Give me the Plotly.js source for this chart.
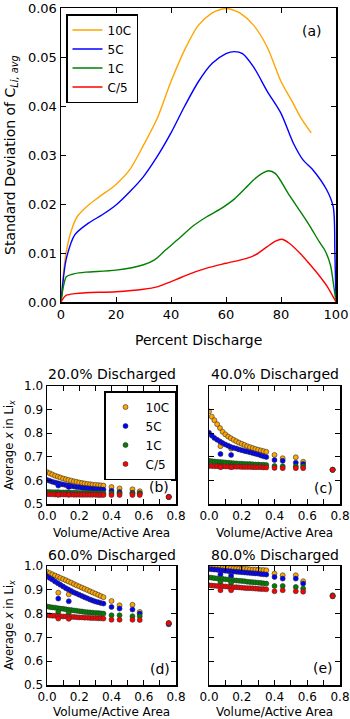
<!DOCTYPE html>
<html>
<head>
<meta charset="utf-8">
<script src="https://cdn.plot.ly/plotly-3.0.1.min.js"></script>
<style>
  body { margin: 0; background: #fff; }
  #chart { width: 350px; height: 719px; }
</style>
</head>
<body>
<div id="chart"></div>
<script>
// (a) std deviation of C_Li,avg vs percent discharge
var pct10C = [0, 1, 2, 4, 6, 10, 14, 20, 25, 30, 35, 40, 45, 50, 55, 58, 60, 62, 65, 70, 75, 80, 84, 87, 91];
var sd10C = [0, 0.0065, 0.0105, 0.0150, 0.0175, 0.0198, 0.0215, 0.0240, 0.0270, 0.0320, 0.0375, 0.0450, 0.0515, 0.0565, 0.0590, 0.0597, 0.0599, 0.0597, 0.0590, 0.0565, 0.0520, 0.0450, 0.0410, 0.0378, 0.0345];

var pct5C = [0, 1, 2, 5, 10, 15, 20, 25, 30, 35, 40, 45, 50, 55, 60, 63, 66, 70, 75, 80, 84.5, 88, 91.7, 96.6, 99, 99.6, 100];
var sd5C = [0, 0.0055, 0.0090, 0.0137, 0.0161, 0.0178, 0.0198, 0.0225, 0.0256, 0.0297, 0.0345, 0.0400, 0.0450, 0.0487, 0.0507, 0.0511, 0.0507, 0.0480, 0.0430, 0.0385, 0.0324, 0.0290, 0.0269, 0.0229, 0.0194, 0.0100, 0];

var pct1C = [0, 1, 2, 5, 9, 20, 30, 34, 38, 43, 48, 53, 58, 63, 67, 70, 73, 75.5, 78, 83, 87, 90.5, 94, 96, 98, 99, 100];
var sd1C = [0, 0.0035, 0.0052, 0.0058, 0.0061, 0.0065, 0.0076, 0.0086, 0.0106, 0.0130, 0.0155, 0.0174, 0.0190, 0.0210, 0.0232, 0.0249, 0.0262, 0.0268, 0.0262, 0.0218, 0.0185, 0.0155, 0.0122, 0.0105, 0.0075, 0.0040, 0];

var pctC5 = [0, 1, 2, 5, 9, 20, 30, 35, 38.4, 42, 45.7, 53, 60, 67.5, 71, 75, 78, 80.2, 83, 87, 90, 94, 97, 100];
var sdC5 = [0, 0.0009, 0.0014, 0.0017, 0.0019, 0.0021, 0.0026, 0.0031, 0.0038, 0.0046, 0.0055, 0.0069, 0.0079, 0.0089, 0.0097, 0.0113, 0.0124, 0.0128, 0.0120, 0.0099, 0.0080, 0.0053, 0.0030, 0];

// (b)-(e) average x in Li_x vs volume/active area
var denseX = [0.00, 0.017, 0.033, 0.05, 0.067, 0.083, 0.10, 0.117, 0.133, 0.15, 0.167, 0.183, 0.20, 0.217, 0.233, 0.25, 0.267, 0.283, 0.30, 0.317, 0.333, 0.35];
var sparseX = [0.07, 0.135, 0.40, 0.45, 0.53, 0.575, 0.755];

// 20% discharged
var b10C = [0.635, 0.630, 0.625, 0.620, 0.616, 0.612, 0.608, 0.605, 0.602, 0.599, 0.596, 0.594, 0.591, 0.589, 0.587, 0.585, 0.584, 0.582, 0.581, 0.580, 0.579, 0.578];
var b5C = [0.602, 0.598, 0.594, 0.591, 0.588, 0.585, 0.583, 0.580, 0.578, 0.576, 0.574, 0.572, 0.571, 0.569, 0.568, 0.567, 0.566, 0.565, 0.564, 0.563, 0.562, 0.561];
var b1C = [0.551, 0.551, 0.550, 0.550, 0.550, 0.549, 0.549, 0.549, 0.548, 0.548, 0.548, 0.548, 0.547, 0.547, 0.547, 0.547, 0.547, 0.546, 0.546, 0.546, 0.546, 0.546];
var bC5 = [0.541, 0.541, 0.541, 0.540, 0.540, 0.540, 0.540, 0.540, 0.540, 0.540, 0.539, 0.539, 0.539, 0.539, 0.539, 0.539, 0.539, 0.539, 0.539, 0.538, 0.538, 0.538];
var b10Cs = [0.585, 0.578, 0.572, 0.566, 0.562, 0.554, 0.530];
var b5Cs = [0.578, 0.572, 0.556, 0.551, 0.548, 0.546, 0.530];
var b1Cs = [0.548, 0.547, 0.546, 0.545, 0.545, 0.545, 0.530];
var bC5s = [0.539, 0.539, 0.538, 0.538, 0.538, 0.538, 0.530];

// 40% discharged
var c10C = [0.892, 0.870, 0.855, 0.838, 0.822, 0.806, 0.795, 0.786, 0.779, 0.772, 0.766, 0.760, 0.755, 0.750, 0.745, 0.741, 0.737, 0.733, 0.730, 0.727, 0.724, 0.721];
var c5C = [0.802, 0.790, 0.780, 0.772, 0.765, 0.758, 0.752, 0.747, 0.742, 0.738, 0.735, 0.731, 0.728, 0.725, 0.722, 0.719, 0.716, 0.713, 0.710, 0.706, 0.702, 0.699];
var c1C = [0.683, 0.681, 0.680, 0.679, 0.678, 0.677, 0.676, 0.675, 0.674, 0.673, 0.672, 0.671, 0.671, 0.670, 0.669, 0.669, 0.668, 0.667, 0.667, 0.666, 0.666, 0.665];
var cC5 = [0.661, 0.661, 0.660, 0.660, 0.660, 0.659, 0.659, 0.659, 0.658, 0.658, 0.658, 0.658, 0.657, 0.657, 0.657, 0.657, 0.656, 0.656, 0.656, 0.656, 0.655, 0.655];
var c10Cs = [0.745, 0.735, 0.708, 0.694, 0.698, 0.679, 0.645];
var c5Cs = [0.712, 0.708, 0.686, 0.683, 0.675, 0.670, 0.645];
var c1Cs = [0.664, 0.664, 0.661, 0.660, 0.660, 0.660, 0.645];
var cC5s = [0.656, 0.656, 0.653, 0.652, 0.652, 0.652, 0.645];

// 60% discharged
var d10C = [0.975, 0.970, 0.965, 0.960, 0.955, 0.950, 0.945, 0.940, 0.935, 0.930, 0.924, 0.919, 0.914, 0.909, 0.904, 0.899, 0.894, 0.889, 0.884, 0.879, 0.874, 0.869];
var d5C = [0.957, 0.950, 0.943, 0.935, 0.928, 0.921, 0.914, 0.907, 0.901, 0.895, 0.889, 0.884, 0.879, 0.874, 0.869, 0.864, 0.859, 0.855, 0.851, 0.848, 0.845, 0.842];
var d1C = [0.830, 0.828, 0.826, 0.825, 0.823, 0.821, 0.820, 0.818, 0.816, 0.815, 0.813, 0.812, 0.810, 0.809, 0.807, 0.806, 0.805, 0.804, 0.803, 0.802, 0.801, 0.800];
var dC5 = [0.793, 0.792, 0.791, 0.791, 0.790, 0.789, 0.788, 0.788, 0.787, 0.786, 0.786, 0.785, 0.784, 0.784, 0.783, 0.783, 0.782, 0.781, 0.781, 0.780, 0.780, 0.779];
var d10Cs = [0.888, 0.881, 0.853, 0.835, 0.837, 0.807, 0.760];
var d5Cs = [0.863, 0.852, 0.828, 0.821, 0.817, 0.800, 0.755];
var d1Cs = [0.807, 0.803, 0.793, 0.793, 0.789, 0.789, 0.758];
var dC5s = [0.779, 0.778, 0.774, 0.774, 0.774, 0.773, 0.760];

// 80% discharged
var e10C = [0.997, 0.996, 0.995, 0.995, 0.994, 0.993, 0.993, 0.992, 0.991, 0.990, 0.990, 0.989, 0.988, 0.988, 0.987, 0.986, 0.985, 0.985, 0.984, 0.983, 0.983, 0.982];
var e5C = [0.987, 0.986, 0.985, 0.984, 0.983, 0.981, 0.980, 0.979, 0.978, 0.977, 0.976, 0.975, 0.974, 0.973, 0.972, 0.971, 0.970, 0.969, 0.968, 0.966, 0.965, 0.964];
var e1C = [0.952, 0.951, 0.949, 0.948, 0.947, 0.946, 0.944, 0.943, 0.942, 0.940, 0.939, 0.938, 0.937, 0.936, 0.934, 0.933, 0.932, 0.931, 0.930, 0.929, 0.927, 0.926];
var eC5 = [0.919, 0.918, 0.917, 0.916, 0.916, 0.915, 0.914, 0.913, 0.912, 0.911, 0.911, 0.910, 0.909, 0.908, 0.907, 0.907, 0.906, 0.905, 0.904, 0.903, 0.903, 0.902];
var e10Cs = [0.975, 0.970, 0.968, 0.961, 0.961, 0.936, 0.877];
var e5Cs = [0.964, 0.958, 0.954, 0.947, 0.947, 0.926, 0.873];
var e1Cs = [0.933, 0.930, 0.916, 0.916, 0.912, 0.905, 0.875];
var eC5s = [0.898, 0.898, 0.894, 0.898, 0.894, 0.892, 0.873];

var rateNames = ["10C", "5C", "1C", "C/5"];
var rateColors = ["#ffa500", "#0000ff", "#008000", "#ff0000"];

var fnt = "DejaVu Sans, Bitstream Vera Sans, sans-serif";

var traces = [];

var topX = [pct10C, pct5C, pct1C, pctC5];
var topY = [sd10C, sd5C, sd1C, sdC5];
for (var i = 0; i < 4; i++) {
  traces.push({
    x: topX[i],
    y: topY[i],
    mode: "lines",
    type: "scatter",
    line: {color: rateColors[i], width: 1.4, shape: "spline", smoothing: 0.8},
    name: rateNames[i],
    legend: "legend",
    xaxis: "x",
    yaxis: "y"
  });
}

var panels = [
  {ax: "2", dense: [b10C, b5C, b1C, bC5], sparse: [b10Cs, b5Cs, b1Cs, bC5s]},
  {ax: "3", dense: [c10C, c5C, c1C, cC5], sparse: [c10Cs, c5Cs, c1Cs, cC5s]},
  {ax: "4", dense: [d10C, d5C, d1C, dC5], sparse: [d10Cs, d5Cs, d1Cs, dC5s]},
  {ax: "5", dense: [e10C, e5C, e1C, eC5], sparse: [e10Cs, e5Cs, e1Cs, eC5s]}
];

panels.forEach(function(p, k) {
  for (var i = 0; i < 4; i++) {
    traces.push({
      x: denseX.concat(sparseX),
      y: p.dense[i].concat(p.sparse[i]),
      mode: "markers",
      type: "scatter",
      marker: {color: rateColors[i], size: 5, line: {color: "#333", width: 0.6}},
      name: rateNames[i],
      showlegend: k == 0,
      legend: "legend2",
      xaxis: "x" + p.ax,
      yaxis: "y" + p.ax
    });
  }
});

function axisStyle(extra) {
  var a = {
    showline: true,
    linecolor: "#000",
    linewidth: 1.5,
    mirror: "allticks",
    ticks: "inside",
    ticklen: 5,
    tickwidth: 1,
    tickcolor: "#000",
    showgrid: false,
    zeroline: false,
    tickfont: {family: fnt, size: 12, color: "#000"}
  };
  for (var k in extra) a[k] = extra[k];
  return a;
}

// small panels: labels every 0.2, ticks every 0.1
var smallX = {range: [0, 0.8], dtick: 0.2, tickformat: ".1f",
  minor: {dtick: 0.1, ticks: "inside", ticklen: 5, tickwidth: 1, tickcolor: "#000", showgrid: false}};

function merge(a, b) {
  var o = {};
  for (var k in a) o[k] = a[k];
  for (var k in b) o[k] = b[k];
  return o;
}

var colA = [47 / 350, 176 / 350];
var colB = [209 / 350, 340 / 350];
var rowB = [1 - 504 / 719, 1 - 386 / 719];
var rowD = [1 - 685 / 719, 1 - 566 / 719];

var layout = {
  width: 350,
  height: 719,
  margin: {l: 0, r: 0, t: 0, b: 0},
  paper_bgcolor: "#fff",
  plot_bgcolor: "#fff",
  font: {family: fnt, color: "#000"},
  hovermode: false,
  xaxis: axisStyle({domain: [61 / 350, 336 / 350], range: [0, 100], dtick: 20, anchor: "y",
    tickfont: {family: fnt, size: 13, color: "#000"}}),
  yaxis: axisStyle({domain: [1 - 302 / 719, 1 - 8 / 719], range: [0, 0.06], dtick: 0.01, tickformat: ".2f", anchor: "x",
    tickfont: {family: fnt, size: 13, color: "#000"}}),
  xaxis2: axisStyle(merge(smallX, {domain: colA, anchor: "y2"})),
  yaxis2: axisStyle({domain: rowB, range: [0.5, 1.0], dtick: 0.1, tickformat: ".1f", anchor: "x2"}),
  xaxis3: axisStyle(merge(smallX, {domain: colB, anchor: "y3"})),
  yaxis3: axisStyle({domain: rowB, range: [0.5, 1.0], dtick: 0.1, showticklabels: false, anchor: "x3"}),
  xaxis4: axisStyle(merge(smallX, {domain: colA, anchor: "y4"})),
  yaxis4: axisStyle({domain: rowD, range: [0.5, 1.0], dtick: 0.1, tickformat: ".1f", anchor: "x4"}),
  xaxis5: axisStyle(merge(smallX, {domain: colB, anchor: "y5"})),
  yaxis5: axisStyle({domain: rowD, range: [0.5, 1.0], dtick: 0.1, showticklabels: false, anchor: "x5"}),
  legend: {
    x: 66 / 350, y: 1 - 14 / 719, xanchor: "left", yanchor: "top",
    bgcolor: "#fff", bordercolor: "#000", borderwidth: 1.5,
    font: {family: fnt, size: 12, color: "#000"},
    itemwidth: 30,
    tracegroupgap: 0
  },
  legend2: {
    x: 104 / 350, y: 1 - 391 / 719, xanchor: "left", yanchor: "top",
    bgcolor: "#fff", bordercolor: "#000", borderwidth: 1.5,
    font: {family: fnt, size: 12, color: "#000"},
    itemwidth: 30,
    tracegroupgap: 0
  },
  annotations: []
};

function note(txt, px, py, size, angle) {
  layout.annotations.push({
    text: txt, xref: "paper", yref: "paper",
    x: px / 350, y: 1 - py / 719, xanchor: "center", yanchor: "middle",
    showarrow: false, textangle: angle || 0,
    font: {family: fnt, size: size, color: "#000"}
  });
}

note("Percent Discharge", 198.5, 340, 14);
note("Standard Deviation of C<sub><i>Li, avg</i></sub>", 11, 155, 14, -90);
note("(a)", 312, 31, 14);

var titles = ["20.0% Discharged", "40.0% Discharged", "60.0% Discharged", "80.0% Discharged"];
note(titles[0], 111.5, 374, 14);
note(titles[1], 274.5, 374, 14);
note(titles[2], 111.5, 555, 14);
note(titles[3], 274.5, 555, 14);
note("Volume/Active Area", 111.5, 533, 12);
note("Volume/Active Area", 274.5, 533, 12);
note("Volume/Active Area", 111.5, 712, 12);
note("Volume/Active Area", 274.5, 712, 12);
note("Average <i>x</i> in Li<sub><i>x</i></sub>", 9, 445, 11.5, -90);
note("Average <i>x</i> in Li<sub><i>x</i></sub>", 9, 625, 11.5, -90);
note("(b)", 159, 487, 14);
note("(c)", 323, 488, 14);
note("(d)", 160, 669, 14);
note("(e)", 323, 668, 14);

Plotly.newPlot("chart", traces, layout, {displayModeBar: false, staticPlot: true});
</script>
</body>
</html>
